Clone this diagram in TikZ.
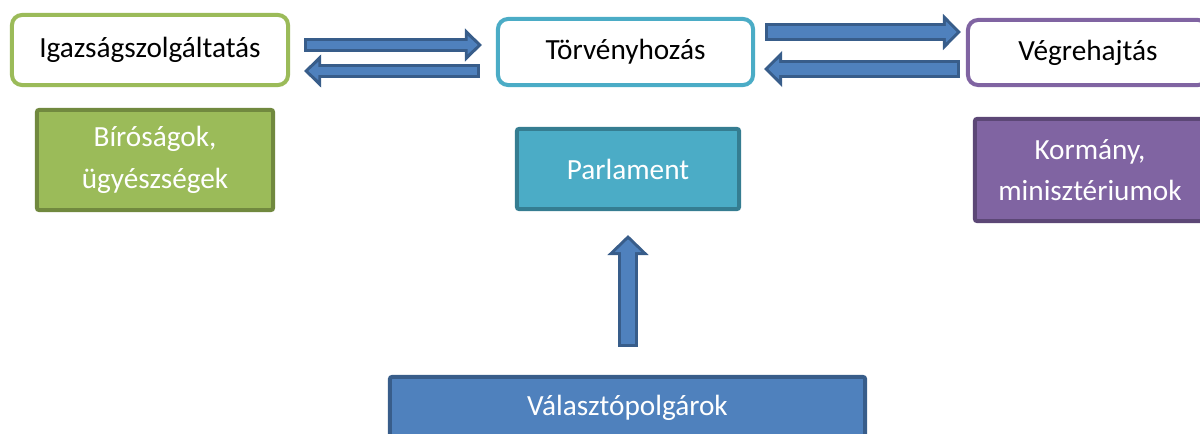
\documentclass[tikz,border=0pt]{standalone}
\usepackage{fontspec}
\setmainfont{Carlito}
\usetikzlibrary{calc,arrows.meta}

\definecolor{grn}{HTML}{9BBB59}
\definecolor{grndark}{HTML}{71893F}
\definecolor{cyn}{HTML}{4BACC6}
\definecolor{cyndark}{HTML}{357D91}
\definecolor{prp}{HTML}{8064A2}
\definecolor{prpdark}{HTML}{5C4776}
\definecolor{blu}{HTML}{4F81BD}
\definecolor{bludark}{HTML}{385D8A}

\tikzset{
  branch/.style={draw=#1, fill=white, line width=0.1cm, rounded corners=0.25cm, text=black},
  organ/.style={draw=#1dark, fill=#1, line width=0.1cm, rounded corners=0.05cm, text=white, align=center},
  narrowarr/.style={draw=blu, line width=0.2cm, shorten >=0.106cm, shorten <=0.075cm,
    -{Triangle[width=0.44cm,length=0.25cm]},
    preaction={draw=bludark, line width=0.35cm, shorten >=0pt, shorten <=0pt, -{Triangle[width=0.8cm,length=0.425cm]}}},
  widearr/.style={draw=blu, line width=0.3cm, shorten >=0.106cm, shorten <=0.075cm,
    -{Triangle[width=0.51cm,length=0.27cm]},
    preaction={draw=bludark, line width=0.45cm, shorten >=0pt, shorten <=0pt, -{Triangle[width=0.875cm,length=0.45cm]}}},
  uparr/.style={draw=blu, line width=0.35cm, shorten >=0.106cm, shorten <=0.075cm,
    -{Triangle[width=0.64cm,length=0.32cm]},
    preaction={draw=bludark, line width=0.5cm, shorten >=0pt, shorten <=0pt, -{Triangle[width=1cm,length=0.5cm]}}}
}

\begin{document}
\begin{tikzpicture}[x=0.025cm, y=-0.025cm, every node/.style={font=\fontsize{20.8}{29.5}\selectfont}]
\useasboundingbox (0,0) rectangle (1200,433);

% Branches of power
\node[branch=grn, minimum width=6.9cm, minimum height=1.75cm] (igaz) at (150,50) {Igazságszolgáltatás};
\node[branch=cyn, minimum width=6.375cm, minimum height=1.65cm] (torv) at (625.5,52) {Törvényhozás};
\node[branch=prp, minimum width=6cm, minimum height=1.625cm] (vegre) at (1088,52.5) {Végrehajtás};

% Organs
\node[organ=grn, minimum width=5.9cm, minimum height=2.5cm] (biro) at (155,160) {Bíróságok,\\ügyészségek};
\node[organ=cyn, minimum width=5.55cm, minimum height=2cm] (parl) at (628,169) {Parlament};
\node[organ=prp, minimum width=5.75cm, minimum height=2.55cm] (korm) at (1090,170) {Kormány,\\minisztériumok};
\node[organ=blu, minimum width=11.875cm, minimum height=1.55cm] (valaszto) at (627.5,408) {Választópolgárok};

% Arrows
\draw[narrowarr] ($(igaz.east)+(14,-5)$) -- ($(igaz.east -| torv.west)+(-14,-5)$);
\draw[narrowarr] ($(igaz.east -| torv.west)+(-16,21)$) -- ($(igaz.east)+(14,21)$);
\draw[widearr] ($(torv.east)+(10,-20)$) -- ($(torv.east -| vegre.west)+(-5,-20)$);
\draw[widearr] ($(torv.east -| vegre.west)+(-6,17)$) -- ($(torv.east)+(9,17)$);
\draw[uparr] ($(parl.south |- valaszto.north)+(0,-28)$) -- ($(parl.south)+(0,24)$);
\end{tikzpicture}
\end{document}
